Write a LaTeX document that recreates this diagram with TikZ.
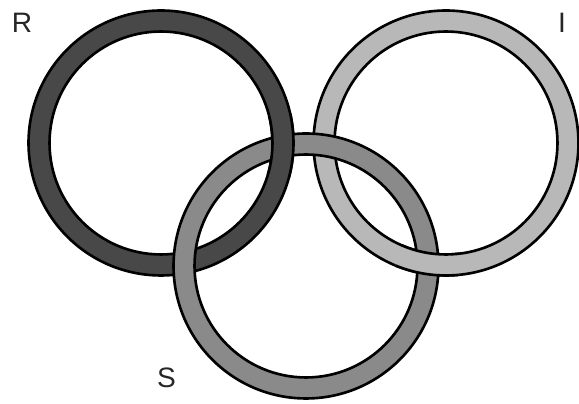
\documentclass[tikz,border=0pt]{standalone}
\usepackage{fontspec}
\setmainfont{Liberation Sans}
\usepackage{xcolor}
\usetikzlibrary{calc}
\definecolor{ringdark}{RGB}{72,72,72}
\definecolor{ringmid}{RGB}{138,138,138}
\definecolor{ringlight}{RGB}{184,184,184}

% 一个圆环：填色带 + 内外黑边
\newcommand{\ringband}[2]{%
  \fill[#2,even odd rule] (#1) circle[radius=2.65cm] (#1) circle[radius=2.23cm];
  \draw[ringline] (#1) circle[radius=2.65cm] (#1) circle[radius=2.23cm];}

\begin{document}
\begin{tikzpicture}[x=0.02cm,y=-0.02cm,
  ringline/.style={black,line width=1.5pt},
  ringlabel/.style={font=\fontsize{16}{19}\selectfont,text=black!85,inner sep=0pt}]
  \useasboundingbox (0,0) rectangle (579,404);

  % 圆心
  \coordinate (cR) at (161,143);
  \coordinate (cI) at (446,143);
  \coordinate (cS) at (306,266);

  % 三个圆环（S 在最上层）
  \ringband{cR}{ringdark}
  \ringband{cI}{ringlight}
  \ringband{cS}{ringmid}

  % 交叉处：R 压住 S（上方）
  \begin{scope}
    \clip (283.5,145.5) circle[radius=0.66cm];
    \ringband{cR}{ringdark}
  \end{scope}
  % 交叉处：I 压住 S（右下）
  \begin{scope}
    \clip (428.5,264) circle[radius=0.66cm];
    \ringband{cI}{ringlight}
  \end{scope}

  % 标注
  \node[ringlabel] (labR) at (22,23) {R};
  \node[ringlabel] (labI) at (562,23) {I};
  \node[ringlabel] (labS) at (166.5,378) {S};
\end{tikzpicture}
\end{document}
